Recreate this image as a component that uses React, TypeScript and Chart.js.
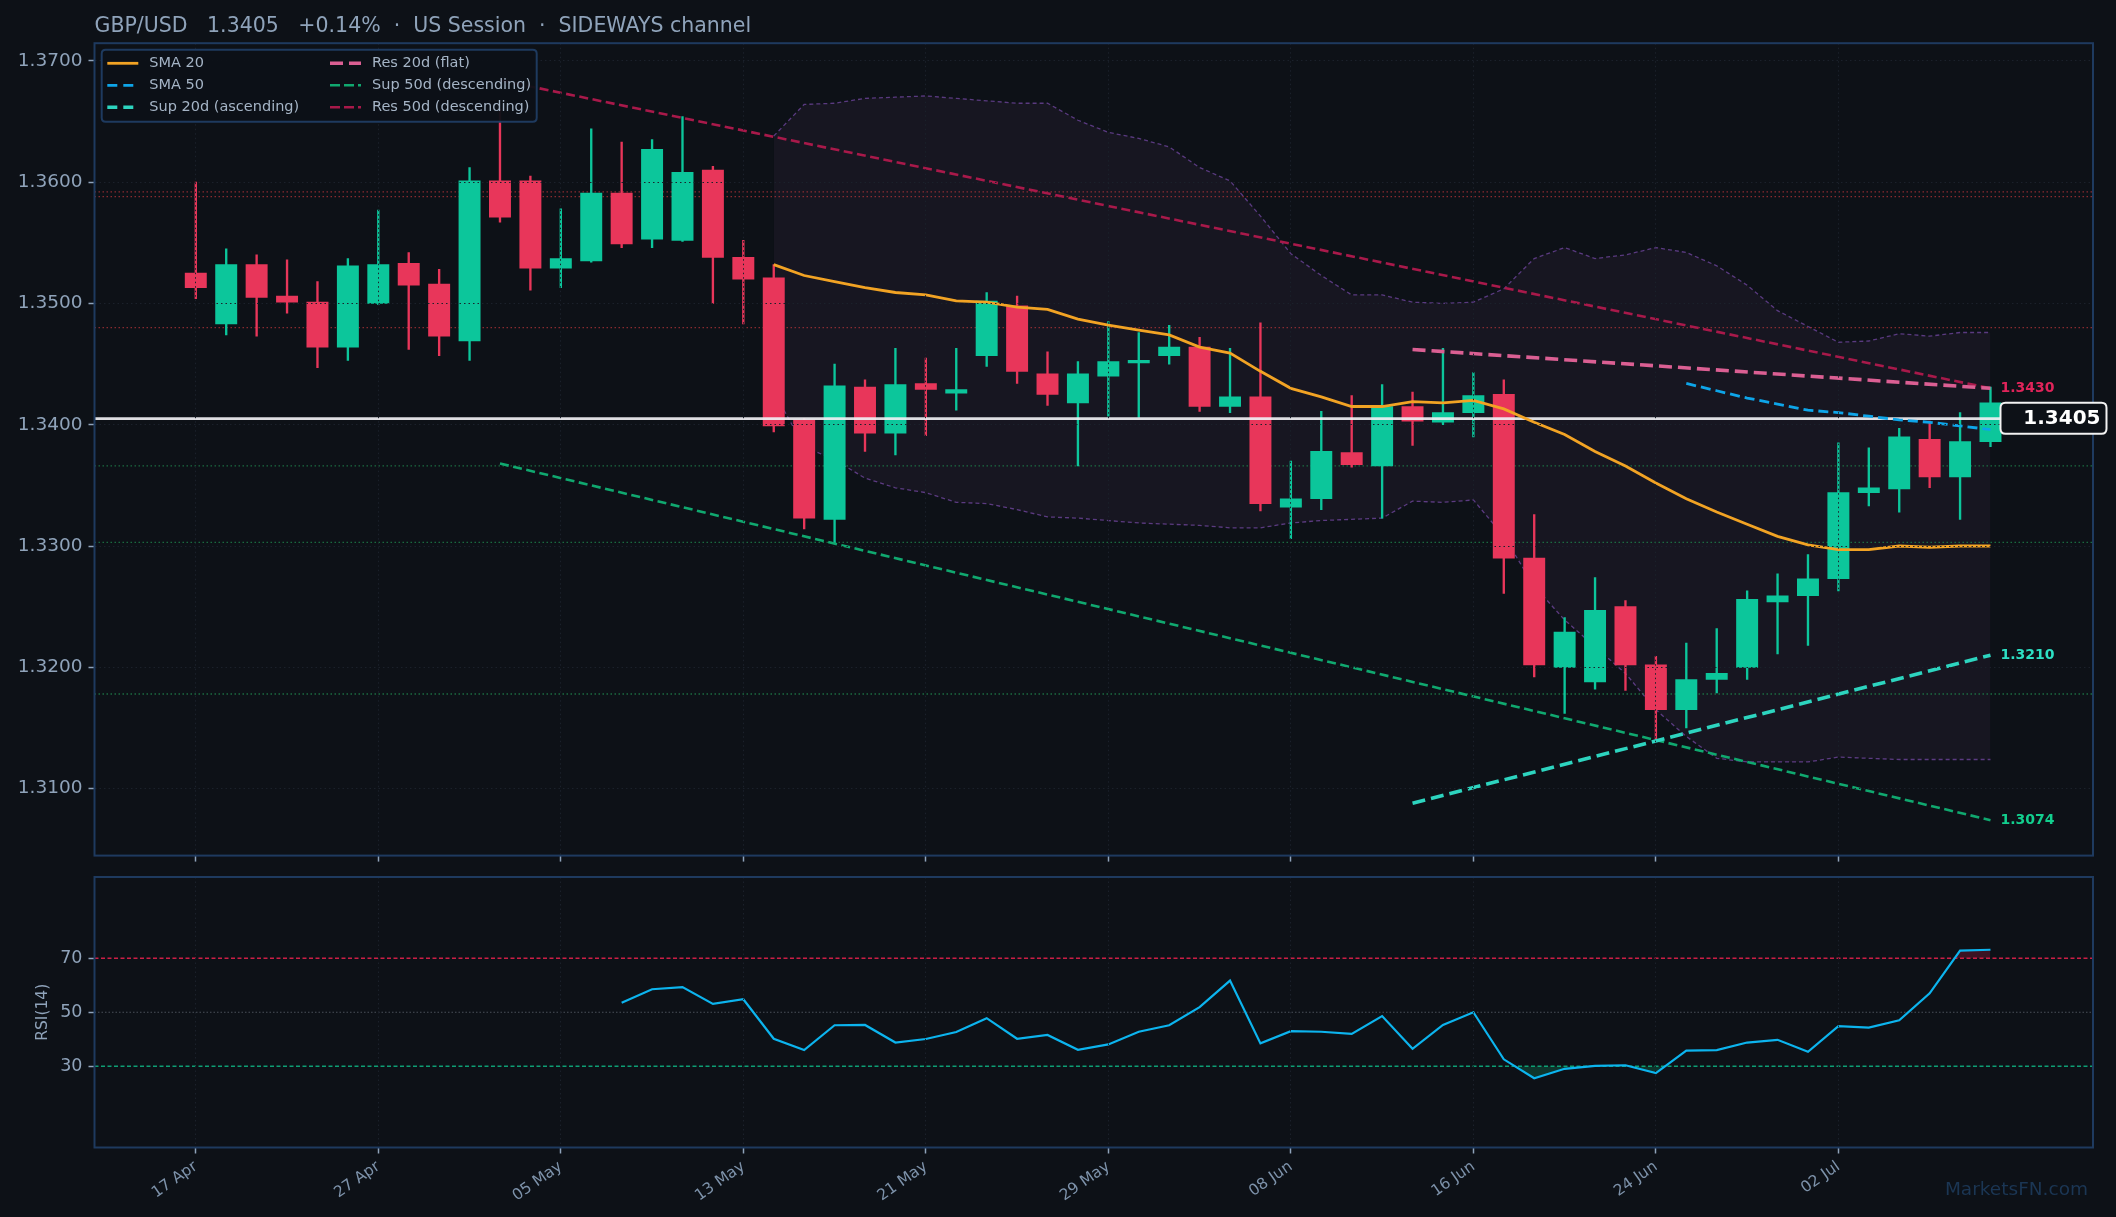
import React, { useEffect, useRef } from 'react';
import { Chart, registerables } from 'chart.js';

Chart.register(...registerables);

// ---------------- data ----------------
const opens = [
  1.3525, 1.3483, 1.3532, 1.3506, 1.3501, 1.3464, 1.3500, 1.3533, 1.3516, 1.3469,
  1.3601, 1.3601, 1.3529, 1.3535, 1.3591, 1.3553, 1.3552, 1.3610, 1.3538, 1.3521,
  1.3404, 1.3322, 1.3431, 1.3393, 1.3434, 1.3426, 1.3457, 1.3498, 1.3442, 1.3418,
  1.3440, 1.3451, 1.3457, 1.3464, 1.3415, 1.3423, 1.3332, 1.3339, 1.3377, 1.3366,
  1.3415, 1.3402, 1.3410, 1.3425, 1.3290, 1.3200, 1.3188, 1.3250, 1.3202, 1.3165,
  1.3190, 1.3200, 1.3254, 1.3259, 1.3273, 1.3344, 1.3347, 1.3388, 1.3357, 1.3386,
];
const highs = [
  1.3600, 1.3545, 1.3540, 1.3536, 1.3518, 1.3537, 1.3577, 1.3542, 1.3528, 1.3612,
  1.3660, 1.3605, 1.3578, 1.3644, 1.3633, 1.3635, 1.3654, 1.3613, 1.3552, 1.3532,
  1.3405, 1.3450, 1.3437, 1.3463, 1.3455, 1.3463, 1.3509, 1.3506, 1.3460, 1.3452,
  1.3485, 1.3476, 1.3482, 1.3472, 1.3463, 1.3484, 1.3370, 1.3411, 1.3424, 1.3433,
  1.3427, 1.3463, 1.3443, 1.3437, 1.3326, 1.3241, 1.3274, 1.3255, 1.3209, 1.3220,
  1.3232, 1.3263, 1.3277, 1.3293, 1.3385, 1.3381, 1.3397, 1.3403, 1.3410, 1.3431,
];
const lows = [
  1.3504, 1.3474, 1.3473, 1.3492, 1.3447, 1.3453, 1.3499, 1.3462, 1.3457, 1.3453,
  1.3567, 1.3511, 1.3513, 1.3534, 1.3546, 1.3546, 1.3551, 1.3500, 1.3483, 1.3394,
  1.3314, 1.3302, 1.3378, 1.3375, 1.3391, 1.3412, 1.3448, 1.3434, 1.3416, 1.3366,
  1.3407, 1.3406, 1.3450, 1.3411, 1.3410, 1.3329, 1.3306, 1.3330, 1.3365, 1.3323,
  1.3383, 1.3400, 1.3390, 1.3261, 1.3192, 1.3162, 1.3182, 1.3181, 1.3140, 1.3150,
  1.3179, 1.3190, 1.3211, 1.3218, 1.3263, 1.3333, 1.3328, 1.3348, 1.3322, 1.3382,
];
const closes = [
  1.3513, 1.3532, 1.3505, 1.3501, 1.3464, 1.3531, 1.3532, 1.3515, 1.3473, 1.3601,
  1.3571, 1.3529, 1.3537, 1.3591, 1.3549, 1.3627, 1.3608, 1.3538, 1.3520, 1.3399,
  1.3323, 1.3432, 1.3393, 1.3433, 1.3429, 1.3429, 1.3502, 1.3444, 1.3425, 1.3442,
  1.3452, 1.3453, 1.3464, 1.3415, 1.3423, 1.3335, 1.3339, 1.3378, 1.3367, 1.3415,
  1.3403, 1.3410, 1.3424, 1.3290, 1.3202, 1.3229, 1.3247, 1.3202, 1.3165, 1.3190,
  1.3195, 1.3256, 1.3259, 1.3273, 1.3344, 1.3348, 1.3390, 1.3357, 1.3386, 1.3418,
];

const sma20Start = 19;
const sma20 = [
  1.3532, 1.3523, 1.3518, 1.3513, 1.3509, 1.3507, 1.3502, 1.3501, 1.3497, 1.3495,
  1.3487, 1.3482, 1.3478, 1.3474, 1.3464, 1.3459, 1.3444, 1.3430, 1.3423, 1.3415,
  1.3415, 1.3419, 1.3418, 1.3420, 1.3413, 1.3402, 1.3392, 1.3378, 1.3366, 1.3352,
  1.3339, 1.3328, 1.3318, 1.3308, 1.3301, 1.3297, 1.3297, 1.3300, 1.3299, 1.3300,
  1.3300,
];

const sma50Start = 49;
const sma50 = [1.3434, 1.3428, 1.3422, 1.3417, 1.3412, 1.3410, 1.3407, 1.3404, 1.3402, 1.3399, 1.3396];

const bbStart = 19;
const bbUpper = [
  1.3638, 1.3664, 1.3665, 1.3669, 1.3670, 1.3671, 1.3669, 1.3667, 1.3665, 1.3665,
  1.3651, 1.3641, 1.3636, 1.3629, 1.3612, 1.3601, 1.3572, 1.3541, 1.3523, 1.3507,
  1.3507, 1.3501, 1.3500, 1.3501, 1.3512, 1.3537, 1.3546, 1.3537, 1.3540, 1.3546,
  1.3542, 1.3531, 1.3515, 1.3494, 1.3481, 1.3468, 1.3469, 1.3475, 1.3473, 1.3476,
  1.3476,
];
const bbLower = [
  1.3427, 1.3382, 1.3371, 1.3356, 1.3348, 1.3344, 1.3336, 1.3335, 1.3330, 1.3324,
  1.3323, 1.3321, 1.3319, 1.3318, 1.3317, 1.3315, 1.3315, 1.3319, 1.3321, 1.3322,
  1.3323, 1.3337, 1.3336, 1.3338, 1.3308, 1.3267, 1.3239, 1.3217, 1.3195, 1.3165,
  1.3143, 1.3125, 1.3122, 1.3122, 1.3122, 1.3126, 1.3125, 1.3124, 1.3124, 1.3124,
  1.3124,
];

const rsiStart = 14;
const rsi = [
  53.5, 58.5, 59.3, 53.1, 54.8, 40.2, 36.0, 45.2, 45.3, 38.8,
  40.1, 42.7, 47.8, 40.2, 41.6, 36.1, 38.1, 42.8, 45.2, 51.9,
  61.7, 38.5, 43.0, 42.8, 42.0, 48.6, 36.5, 45.3, 50.0, 32.6,
  25.6, 29.1, 30.2, 30.4, 27.5, 35.8, 36.0, 38.8, 39.8, 35.4,
  44.9, 44.3, 47.0, 57.0, 72.8, 73.1,
];

const resLevels = [1.3592, 1.3588, 1.3480];
const supLevels = [1.3366, 1.3303, 1.3178];
const currentPrice = 1.3405;

const res20Idx = [40, 59];
const res20 = [1.3462, 1.3430];
const sup20Idx = [40, 59];
const sup20 = [1.3088, 1.3210];
const sup50Idx = [10, 59];
const sup50 = [1.3368, 1.3074];
const res50Idx = [10, 59];
const res50 = [1.3684, 1.3430];

const tickIdx = [0, 6, 12, 18, 24, 30, 36, 42, 48, 54];
const tickLabels = ['17 Apr', '27 Apr', '05 May', '13 May', '21 May', '29 May', '08 Jun', '16 Jun', '24 Jun', '02 Jul'];
const priceTicks = [1.31, 1.32, 1.33, 1.34, 1.35, 1.36, 1.37];
const rsiTicks = [30, 50, 70];
const titleText = 'GBP/USD   1.3405   +0.14%  ·  US Session  ·  SIDEWAYS channel';

// ---------------- style ----------------
const FONT = 'DejaVu Sans';
const BG = '#0d1117';
const BORDER = '#1e3a5f';
const TEXT = '#8fa3ba';
const GRID = '#1b212b';
const GREEN = '#0cc69b';
const RED = '#e8365a';
const C_SMA20 = '#f2a324';
const C_SMA50 = '#0ea5e9';
const C_SUP20 = '#2dd4bf';
const C_RES20 = '#db5f93';
const C_SUP50 = '#10a86f';
const C_RES50 = '#a8194a';
const C_BB = '#5a3a80';
const C_RSI = '#0cb4ee';

const X_MIN = -3.33;
const X_MAX = 62.37;
const Y_MIN = 1.30448;
const Y_MAX = 1.37145;

const series = (start: number, vals: number[]) => vals.map((v, k) => ({ x: start + k, y: v }));
const pairs = (xs: number[], ys: number[]) => xs.map((x, k) => ({ x, y: ys[k] }));
const hline = (v: number) => [{ x: X_MIN, y: v }, { x: X_MAX, y: v }];

const lineDs = (label: string, data: any[], color: string, width: number, dash: number[], order: number, extra: any = {}) => ({
  type: 'line',
  label,
  data,
  borderColor: color,
  borderWidth: width,
  borderDash: dash,
  pointRadius: 0,
  fill: false,
  tension: 0,
  order,
  ...extra,
});

const candleColors = closes.map((c, i) => (c >= opens[i] ? GREEN : RED));

const noPad = (s: any) => {
  s.paddingTop = 0;
  s.paddingBottom = 0;
  s.paddingLeft = 0;
  s.paddingRight = 0;
};

const xScale = (showLabels: boolean, heightPx: number) => ({
  type: 'linear',
  min: X_MIN,
  max: X_MAX,
  offset: false,
  afterBuildTicks: (s: any) => {
    s.ticks = tickIdx.map((v) => ({ value: v }));
  },
  afterFit: (s: any) => {
    s.height = heightPx;
    noPad(s);
  },
  ticks: {
    display: showLabels,
    autoSkip: false,
    maxRotation: 35,
    minRotation: 35,
    padding: 4,
    color: '#7d92aa',
    font: { family: FONT, size: 15.5 },
    callback: (v: any) => {
      const k = tickIdx.indexOf(Number(v));
      return k >= 0 ? tickLabels[k] : '';
    },
  },
  grid: {
    color: GRID,
    lineWidth: 1,
    offset: false,
    drawTicks: true,
    tickLength: 6,
    tickColor: TEXT,
    tickWidth: 1.5,
    z: 1,
  },
  border: { display: false, dash: [1.5, 3] },
});

function roundRect(ctx: CanvasRenderingContext2D, x: number, y: number, w: number, h: number, r: number) {
  ctx.beginPath();
  ctx.moveTo(x + r, y);
  ctx.lineTo(x + w - r, y);
  ctx.quadraticCurveTo(x + w, y, x + w, y + r);
  ctx.lineTo(x + w, y + h - r);
  ctx.quadraticCurveTo(x + w, y + h, x + w - r, y + h);
  ctx.lineTo(x + r, y + h);
  ctx.quadraticCurveTo(x, y + h, x, y + h - r);
  ctx.lineTo(x, y + r);
  ctx.quadraticCurveTo(x, y, x + r, y);
  ctx.closePath();
}

const legendItems = [
  { label: 'SMA 20', color: C_SMA20, width: 2.8, dash: [] as number[], col: 0, row: 0 },
  { label: 'SMA 50', color: C_SMA50, width: 2.8, dash: [10, 6], col: 0, row: 1 },
  { label: 'Sup 20d (ascending)', color: C_SUP20, width: 3.6, dash: [10, 6], col: 0, row: 2 },
  { label: 'Res 20d (flat)', color: C_RES20, width: 3.6, dash: [13, 6], col: 1, row: 0 },
  { label: 'Sup 50d (descending)', color: C_SUP50, width: 2.6, dash: [10, 4], col: 1, row: 1 },
  { label: 'Res 50d (descending)', color: C_RES50, width: 2.6, dash: [10, 4], col: 1, row: 2 },
];

const mainOverlay = {
  id: 'mainOverlay',
  afterDraw(chart: any) {
    const { ctx, chartArea: a, scales } = chart;
    const xs = scales.x;
    const ys = scales.y;
    ctx.save();
    // panel border
    ctx.strokeStyle = BORDER;
    ctx.lineWidth = 2;
    ctx.setLineDash([]);
    ctx.strokeRect(a.left, a.top, a.right - a.left, a.bottom - a.top);

    // title
    ctx.fillStyle = TEXT;
    ctx.font = `20.5px "${FONT}"`;
    ctx.textAlign = 'left';
    ctx.textBaseline = 'middle';
    ctx.fillText(titleText, a.left, 26.5);

    // legend
    const lx = a.left + 7.2;
    const ly = a.top + 6.5;
    roundRect(ctx, lx, ly, 435, 72, 4);
    ctx.fillStyle = 'rgba(13,17,23,0.95)';
    ctx.fill();
    ctx.strokeStyle = BORDER;
    ctx.lineWidth = 2;
    ctx.stroke();
    ctx.font = `14.5px "${FONT}"`;
    ctx.textBaseline = 'middle';
    legendItems.forEach((it) => {
      const y = ly + 13.6 + it.row * 22;
      const x0 = it.col === 0 ? lx + 5.6 : lx + 228.3;
      ctx.beginPath();
      ctx.strokeStyle = it.color;
      ctx.lineWidth = it.width;
      ctx.setLineDash(it.dash);
      ctx.moveTo(x0, y);
      ctx.lineTo(x0 + 31, y);
      ctx.stroke();
      ctx.setLineDash([]);
      ctx.fillStyle = '#a5b4c6';
      ctx.fillText(it.label, x0 + 42, y);
    });

    // end labels
    const bx = xs.getPixelForValue(59) + 10;
    ctx.font = `bold 14px "${FONT}"`;
    ctx.textAlign = 'left';
    const endLabel = (v: number, color: string) => {
      ctx.fillStyle = color;
      ctx.fillText(v.toFixed(4), bx, ys.getPixelForValue(v));
    };
    endLabel(res20[res20.length - 1], '#e0245a');
    endLabel(sup20[sup20.length - 1], '#2de0c4');
    endLabel(sup50[sup50.length - 1], '#12cf8e');

    // current price box
    const yp = ys.getPixelForValue(currentPrice);
    roundRect(ctx, bx, yp - 16, 106, 31, 5);
    ctx.fillStyle = BG;
    ctx.fill();
    ctx.strokeStyle = '#f2f2f2';
    ctx.lineWidth = 2;
    ctx.stroke();
    ctx.fillStyle = '#ffffff';
    ctx.font = `bold 20px "${FONT}"`;
    ctx.textAlign = 'right';
    ctx.fillText(currentPrice.toFixed(4), bx + 100, yp);
    ctx.restore();
  },
};

const rsiOverlay = {
  id: 'rsiOverlay',
  afterDraw(chart: any) {
    const { ctx, chartArea: a } = chart;
    ctx.save();
    ctx.strokeStyle = BORDER;
    ctx.lineWidth = 2;
    ctx.setLineDash([]);
    ctx.strokeRect(a.left, a.top, a.right - a.left, a.bottom - a.top);
    ctx.fillStyle = '#1b3654';
    ctx.font = `18.5px "${FONT}"`;
    ctx.textAlign = 'right';
    ctx.textBaseline = 'middle';
    ctx.fillText('MarketsFN.com', a.right - 5, a.bottom + 43);
    ctx.restore();
  },
};

export default function App() {
  const mainRef = useRef<HTMLCanvasElement>(null);
  const rsiRef = useRef<HTMLCanvasElement>(null);

  useEffect(() => {
    document.body.style.margin = '0';
    document.body.style.background = BG;

    const idx = opens.map((_, i) => i);
    const mainCfg: any = {
      type: 'line',
      data: {
        datasets: [
          lineDs('BB upper', series(bbStart, bbUpper), C_BB, 1.3, [4, 3], 100, {
            fill: '+1',
            backgroundColor: 'rgba(150,95,175,0.07)',
          }),
          lineDs('BB lower', series(bbStart, bbLower), C_BB, 1.3, [4, 3], 100),
          ...resLevels.map((v) => lineDs('res lvl', hline(v), 'rgba(176,52,58,0.75)', 1.3, [1.5, 2.5], 95)),
          ...supLevels.map((v) => lineDs('sup lvl', hline(v), 'rgba(30,130,75,0.8)', 1.3, [1.5, 2.5], 95)),
          {
            type: 'bar',
            label: 'wicks',
            data: idx.map((i) => ({ x: i, y: [lows[i], highs[i]] })),
            backgroundColor: candleColors,
            borderWidth: 0,
            barThickness: 1.7,
            grouped: false,
            order: 90,
          },
          {
            type: 'bar',
            label: 'bodies',
            data: idx.map((i) => ({ x: i, y: [opens[i], closes[i]] })),
            backgroundColor: candleColors,
            borderWidth: 0,
            barThickness: 21.3,
            minBarLength: 2,
            grouped: false,
            order: 85,
          },
          lineDs('Price', hline(currentPrice), 'rgba(240,240,244,0.92)', 2.6, [], 60),
          lineDs('SMA 50', series(sma50Start, sma50), C_SMA50, 2.8, [10, 5], 50),
          lineDs('SMA 20', series(sma20Start, sma20), C_SMA20, 2.8, [], 40),
          lineDs('Res 50d (descending)', pairs(res50Idx, res50), C_RES50, 2.6, [9, 4.5], 35),
          lineDs('Sup 50d (descending)', pairs(sup50Idx, sup50), C_SUP50, 2.6, [9, 4.5], 35),
          lineDs('Res 20d (flat)', pairs(res20Idx, res20), C_RES20, 3.6, [13, 6], 30),
          lineDs('Sup 20d (ascending)', pairs(sup20Idx, sup20), C_SUP20, 3.6, [13, 6], 30),
        ],
      },
      options: {
        responsive: true,
        maintainAspectRatio: false,
        animation: false,
        events: [],
        layout: { padding: { top: 43.2, right: 23, bottom: 0, left: 0 } },
        plugins: { legend: { display: false }, tooltip: { enabled: false }, title: { display: false } },
        scales: {
          x: xScale(false, 14.4),
          y: {
            type: 'linear',
            min: Y_MIN,
            max: Y_MAX,
            afterBuildTicks: (s: any) => {
              s.ticks = priceTicks.map((v) => ({ value: v }));
            },
            afterFit: (s: any) => {
              s.width = 94.5;
              noPad(s);
            },
            ticks: {
              color: TEXT,
              padding: 6,
              font: { family: FONT, size: 18.5 },
              callback: (v: any) => Number(v).toFixed(4),
            },
            grid: {
              color: GRID,
              lineWidth: 1,
              drawTicks: true,
              tickLength: 6,
              tickColor: TEXT,
              tickWidth: 1.5,
              z: 1,
            },
            border: { display: false, dash: [1.5, 3] },
          },
        },
      },
      plugins: [mainOverlay],
    };

    const rsiCfg: any = {
      type: 'line',
      data: {
        datasets: [
          lineDs('RSI(14)', series(rsiStart, rsi), C_RSI, 2.2, [], 1),
          lineDs('ob fill', series(rsiStart, rsi), 'rgba(0,0,0,0)', 0, [], 5, {
            fill: { target: { value: 70 }, above: 'rgba(200,30,70,0.25)', below: 'rgba(0,0,0,0)' },
          }),
          lineDs('os fill', series(rsiStart, rsi), 'rgba(0,0,0,0)', 0, [], 5, {
            fill: { target: { value: 30 }, above: 'rgba(0,0,0,0)', below: 'rgba(16,185,129,0.22)' },
          }),
          lineDs('70', hline(70), '#cc1f46', 1.5, [4, 2.5], 10),
          lineDs('50', hline(50), '#4a505a', 1, [1.5, 2], 10),
          lineDs('30', hline(30), '#0e9e74', 1.5, [4, 2.5], 10),
        ],
      },
      options: {
        responsive: true,
        maintainAspectRatio: false,
        animation: false,
        events: [],
        layout: { padding: { top: 7, right: 23, bottom: 0, left: 0 } },
        plugins: { legend: { display: false }, tooltip: { enabled: false }, title: { display: false } },
        scales: {
          x: xScale(true, 69.5),
          y: {
            type: 'linear',
            min: 0,
            max: 100,
            afterBuildTicks: (s: any) => {
              s.ticks = rsiTicks.map((v) => ({ value: v }));
            },
            afterFit: (s: any) => {
              s.width = 94.5;
              noPad(s);
            },
            title: {
              display: true,
              text: 'RSI(14)',
              color: TEXT,
              font: { family: FONT, size: 15.5 },
              padding: { top: 34, bottom: 0 },
            },
            ticks: {
              color: TEXT,
              padding: 6,
              font: { family: FONT, size: 17.5 },
            },
            grid: {
              drawOnChartArea: false,
              drawTicks: true,
              tickLength: 6,
              tickColor: TEXT,
              tickWidth: 1.5,
            },
            border: { display: false },
          },
        },
      },
      plugins: [rsiOverlay],
    };

    const c1 = new Chart(mainRef.current as HTMLCanvasElement, mainCfg);
    const c2 = new Chart(rsiRef.current as HTMLCanvasElement, rsiCfg);
    return () => {
      c1.destroy();
      c2.destroy();
    };
  }, []);

  return (
    <div style={{ position: 'relative', width: 2116, height: 1217, background: BG, overflow: 'hidden' }}>
      <div style={{ position: 'absolute', left: 0, top: 0, width: 2116, height: 870 }}>
        <canvas ref={mainRef} />
      </div>
      <div style={{ position: 'absolute', left: 0, top: 870, width: 2116, height: 347 }}>
        <canvas ref={rsiRef} />
      </div>
    </div>
  );
}
